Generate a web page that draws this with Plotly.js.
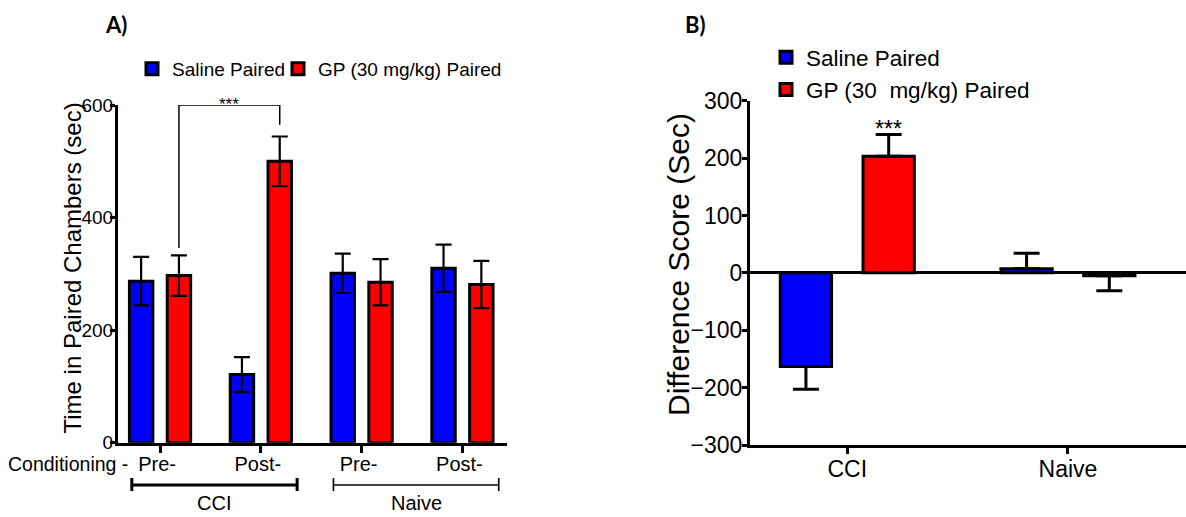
<!DOCTYPE html>
<html>
<head>
<meta charset="utf-8">
<script src="https://cdn.plot.ly/plotly-3.0.1.min.js"></script>
<style>html,body{margin:0;padding:0;background:#fff;}#chart{width:1186px;height:517px;}</style>
</head>
<body>
<div id="chart"></div>
<script>
// ---------- Data: panel A ----------
const seriesNames = ['Saline Paired', 'GP (30 mg/kg) Paired'];
const seriesNamesB = ['Saline Paired', 'GP (30  mg/kg) Paired'];
const conditioningLabels = ['Pre-', 'Post-', 'Pre-', 'Post-'];
const groupLabelsA = ['CCI', 'Naive'];
const salineA = [287, 121, 301, 310];
const salineErrA = [43, 31, 35, 42];
const gpA = [297, 500, 285, 281];
const gpErrA = [36, 44, 41, 42];

// ---------- Data: panel B ----------
const categoriesB = ['CCI', 'Naive'];
const salineB = [-163, 7];
const salineErrUpB = [0, 27];
const salineErrDownB = [40, 0];
const gpB = [203, -5];
const gpErrUpB = [38, 0];
const gpErrDownB = [0, 26];

// ---------- Styling ----------
const FONT = 'Liberation Sans, Arial, Helvetica, sans-serif';
const BLUE = '#0000ff', RED = '#ff0000', BLACK = '#000000';
const W = 1186, H = 517;
const BARGAP = 0.25, BARGROUPGAP = 0.38;
const redOffset = (1 - BARGAP) / 4;
const px = v => v / W;           // pixel x -> paper
const py = v => (H - v) / H;     // pixel y -> paper

const xPosA = conditioningLabels.map((_, i) => i);

const traces = [
  {
    type: 'bar', name: seriesNames[0], x: xPosA, y: salineA,
    xaxis: 'x', yaxis: 'y', legend: 'legend',
    marker: {color: BLUE, line: {color: BLACK, width: 3}},
    error_y: {type: 'data', array: salineErrA, visible: true, color: BLACK, thickness: 2.2, width: 8}
  },
  {
    type: 'bar', name: seriesNames[1], x: xPosA, y: gpA,
    xaxis: 'x', yaxis: 'y', legend: 'legend3',
    marker: {color: RED, line: {color: BLACK, width: 3}},
    error_y: {type: 'data', array: gpErrA, visible: true, color: BLACK, thickness: 2.2, width: 8}
  },
  {
    type: 'bar', name: seriesNamesB[0], x: categoriesB, y: salineB,
    xaxis: 'x2', yaxis: 'y2', legend: 'legend2',
    marker: {color: BLUE, line: {color: BLACK, width: 3}},
    error_y: {type: 'data', symmetric: false, array: salineErrUpB, arrayminus: salineErrDownB,
              visible: true, color: BLACK, thickness: 3, width: 13}
  },
  {
    type: 'bar', name: seriesNamesB[1], x: categoriesB, y: gpB,
    xaxis: 'x2', yaxis: 'y2', legend: 'legend2',
    marker: {color: RED, line: {color: BLACK, width: 3}},
    error_y: {type: 'data', symmetric: false, array: gpErrUpB, arrayminus: gpErrDownB,
              visible: true, color: BLACK, thickness: 3, width: 13}
  }
];

// significance bracket (panel A): red Pre-CCI vs red Post-CCI
const sigTop = 600, sigGap = 15;
const sxL = 0 + redOffset, sxR = 1 + redOffset;
const sigPath = 'M ' + sxL + ',' + (gpA[0] + gpErrA[0] + sigGap - 2) +
                ' L ' + sxL + ',' + sigTop +
                ' L ' + sxR + ',' + sigTop +
                ' L ' + sxR + ',' + (gpA[1] + gpErrA[1] + sigGap + 6);

// group brackets under panel A
const bracketY = py(485), bracketTop = py(478), bracketBot = py(491);
const groupSpans = [[0, 1], [2, 3]];
const groupShapes = [];
groupSpans.forEach((g, i) => {
  const x0 = g[0] - 0.28, x1 = g[1] + 0.36;
  const w = i === 0 ? 3 : 1.6;
  groupShapes.push({type: 'line', xref: 'x', yref: 'paper', x0: x0, x1: x1, y0: bracketY, y1: bracketY, line: {color: BLACK, width: w}});
  groupShapes.push({type: 'line', xref: 'x', yref: 'paper', x0: x0, x1: x0, y0: bracketTop, y1: bracketBot, line: {color: BLACK, width: w}});
  groupShapes.push({type: 'line', xref: 'x', yref: 'paper', x0: x1, x1: x1, y0: bracketTop, y1: bracketBot, line: {color: BLACK, width: w}});
});

const ann = (o) => Object.assign({showarrow: false, xanchor: 'center', yanchor: 'middle'}, o);
const annotations = [
  ann({text: '<b>A)</b>', xref: 'paper', yref: 'paper', x: px(116), y: py(24),
   font: {family: 'Lato, ' + FONT, size: 22, color: BLACK}}),
  ann({text: '<b>B)</b>', xref: 'paper', yref: 'paper', x: px(695), y: py(24),
   font: {family: 'Lato, ' + FONT, size: 22, color: BLACK}}),
  ann({text: 'Time in Paired Chambers (sec)', xref: 'paper', yref: 'paper', x: px(71.5), y: py(268),
   textangle: -90, font: {family: FONT, size: 24, color: BLACK}}),
  ann({text: 'Difference Score (Sec)', xref: 'paper', yref: 'paper', x: px(678), y: py(265),
   textangle: -90, font: {family: FONT, size: 30, color: BLACK}}),
  ann({text: 'Conditioning -', xref: 'paper', yref: 'paper', x: px(6), xanchor: 'left', y: py(463.5),
   font: {family: FONT, size: 19.5, color: BLACK}}),
  ann({text: '***', xref: 'x', yref: 'y', x: (sxL + sxR) / 2, y: sigTop,
   font: {family: FONT, size: 17, color: BLACK}}),
  ann({text: '***', xref: 'x2', yref: 'y2', x: 0 + redOffset, y: gpB[0] + gpErrUpB[0] + 10,
   font: {family: FONT, size: 23, color: BLACK}})
];
groupSpans.forEach((g, i) => {
  annotations.push(ann({text: groupLabelsA[i], xref: 'x', yref: 'paper', x: (g[0] - 0.28 + g[1] + 0.36) / 2,
    y: py(503), font: {family: FONT, size: 20, color: BLACK}}));
});

const axisCommon = {
  showgrid: false, showline: true, linecolor: BLACK, linewidth: 3,
  ticks: 'outside', tickcolor: BLACK, tickwidth: 3, ticklen: 6,
  fixedrange: true
};

const legendA = {
  orientation: 'h', xanchor: 'left', y: py(50), yanchor: 'top',
  font: {family: FONT, size: 19, color: BLACK}, bgcolor: 'rgba(0,0,0,0)',
  itemclick: false, itemdoubleclick: false
};

const layout = {
  width: W, height: H,
  margin: {l: 0, r: 0, t: 0, b: 0, pad: 0},
  paper_bgcolor: '#ffffff', plot_bgcolor: '#ffffff',
  font: {family: FONT, color: BLACK},
  barmode: 'group', bargap: BARGAP, bargroupgap: BARGROUPGAP,
  showlegend: true,
  xaxis: Object.assign({}, axisCommon, {
    domain: [px(118), px(507)], anchor: 'y', range: [-0.417, 3.442],
    tickmode: 'array', tickvals: xPosA, ticktext: conditioningLabels, ticklen: 7,
    ticklabelstandoff: -6, ticklabelshift: -3,
    tickfont: {family: FONT, size: 20, color: BLACK}, zeroline: false
  }),
  yaxis: Object.assign({}, axisCommon, {
    domain: [py(442.7), py(105)], anchor: 'x', range: [0, 600],
    tickvals: [0, 200, 400, 600], zeroline: false, ticklen: 5, ticklabelstandoff: -7,
    tickfont: {family: FONT, size: 19, color: BLACK}
  }),
  xaxis2: Object.assign({}, axisCommon, {
    domain: [px(750), 1], anchor: 'y2', type: 'category', range: [-0.441, 1.535],
    tickfont: {family: FONT, size: 23, color: BLACK}, ticklen: 6, zeroline: false,
    ticklabelstandoff: -5
  }),
  yaxis2: Object.assign({}, axisCommon, {
    domain: [py(445), py(100.7)], anchor: 'x2', range: [-300, 300],
    tickvals: [-300, -200, -100, 0, 100, 200, 300], ticklen: 5, ticklabelstandoff: -5,
    zeroline: true, zerolinecolor: BLACK, zerolinewidth: 3,
    tickfont: {family: FONT, size: 23, color: BLACK}
  }),
  legend: Object.assign({}, legendA, {x: px(132)}),
  legend3: Object.assign({}, legendA, {x: px(278)}),
  legend2: {
    orientation: 'v', x: px(766), xanchor: 'left', y: py(36), yanchor: 'top',
    font: {family: FONT, size: 22.5, color: BLACK}, bgcolor: 'rgba(0,0,0,0)', tracegroupgap: 0,
    itemclick: false, itemdoubleclick: false
  },
  shapes: [
    {type: 'path', xref: 'x', yref: 'y', path: sigPath, line: {color: BLACK, width: 1.5}}
  ].concat(groupShapes),
  annotations: annotations
};

Plotly.newPlot('chart', traces, layout, {staticPlot: true, displayModeBar: false});
</script>
</body>
</html>
